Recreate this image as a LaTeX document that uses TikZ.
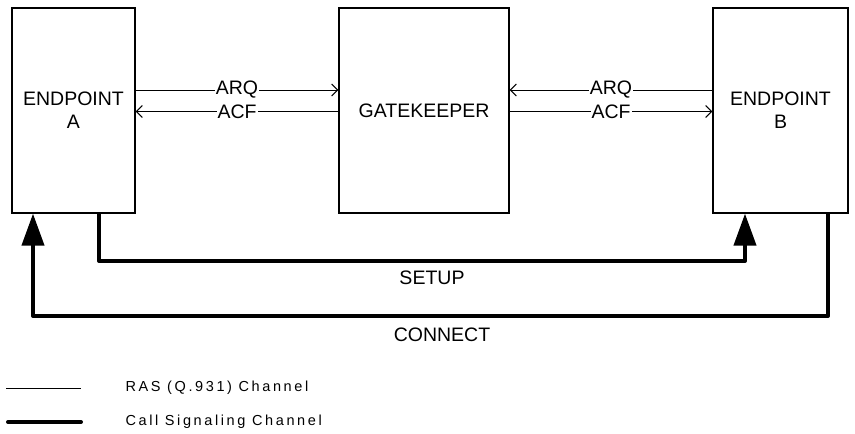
\documentclass[tikz,border=0pt]{standalone}
\usepackage{fontspec}
\setmainfont{Liberation Sans}
\usetikzlibrary{arrows.meta}

\begin{document}
\begin{tikzpicture}[x=1pt,y=-1pt,
    font=\fontsize{19.5}{23}\selectfont,
    box/.style={draw,line width=1.2pt,inner sep=0pt,minimum height=205pt,align=center},
    ras/.style={line width=1pt},
    call/.style={line width=4pt,line join=round},
    lbl/.style={fill=white,inner sep=1pt},
    bar/.style={-{Straight Barb[length=6pt,width=12pt,line width=1pt]}},
    fat/.style={-{Triangle[length=32pt,width=22pt]}},
    legend/.style={anchor=west,font=\fontsize{14.5}{16}\selectfont\addfontfeature{LetterSpace=18}}]
  \useasboundingbox (0,0) rectangle (855,434);

  % Define boxes
  \node[box, minimum width=123pt] (epA) at (73.5,110.5) {ENDPOINT\\A};
  \node[box, minimum width=170pt] (gk)  at (424,110.5)  {GATEKEEPER};
  \node[box, minimum width=135pt] (epB) at (780.5,110.5) {ENDPOINT\\B};

  % RAS messages
  \draw[ras, bar] ([yshift=20.5pt]epA.east) -- node[lbl] {ARQ} ([yshift=20.5pt]gk.west);
  \draw[ras, bar] ([yshift=-1pt]gk.west) -- node[lbl] {ACF} ([yshift=-1pt]epA.east);
  \draw[ras, bar] ([yshift=20.5pt]epB.west) -- node[lbl] {ARQ} ([yshift=20.5pt]gk.east);
  \draw[ras, bar] ([yshift=-1pt]gk.east) -- node[lbl] {ACF} ([yshift=-1pt]epB.west);

  % Call signaling
  \coordinate (setupL) at (99,261);
  \coordinate (setupR) at (745,261);
  \coordinate (connR) at (828,316);
  \coordinate (connL) at (33,316);
  \draw[call, fat] (setupL |- epA.south) -- (setupL) -- (setupR) -- (setupR |- epB.south);
  \draw[call, fat] (connR |- epB.south) -- (connR) -- (connL) -- (connL |- epA.south);
  \node (setup) at (432,278) {SETUP};
  \node (connect) at (442,335) {CONNECT};

  % Legend
  \coordinate (rasA) at (6,388);
  \coordinate (rasB) at (81,388);
  \coordinate (callA) at (8,422);
  \coordinate (callB) at (81,422);
  \draw[ras] (rasA) -- (rasB);
  \draw[call, line cap=round] (callA) -- (callB);
  \node[legend] (rasTxt) at (122,388) {RAS (Q.931) Channel};
  \node[legend] (callTxt) at (122,422) {Call Signaling Channel};
\end{tikzpicture}
\end{document}
